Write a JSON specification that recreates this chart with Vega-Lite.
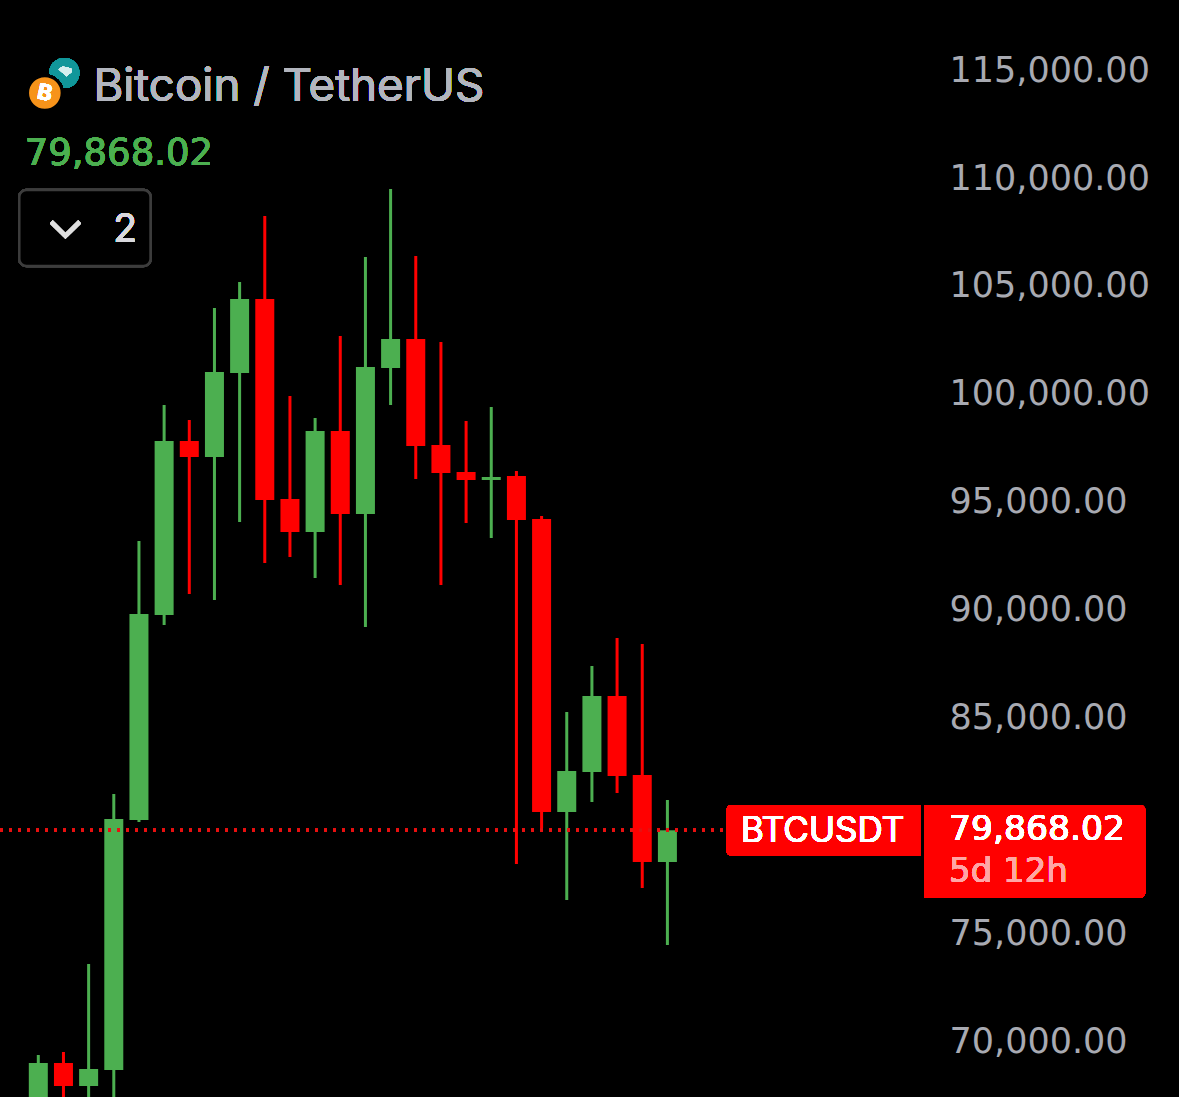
{
"$schema":"https://vega.github.io/schema/vega-lite/v6.json",
"width":1179,"height":1097,"autosize":{"type":"none"},"padding":0,"background":"#000000",
"config":{"view":{"stroke":null}},
"data":{"name":"candles","values":[
{"i":0,"open":66907,"high":69455,"low":66212,"close":69085},
{"i":1,"open":69085,"high":69594,"low":67138,"close":68019},
{"i":2,"open":68019,"high":73672,"low":67138,"close":68807},
{"i":3,"open":68760,"high":81550,"low":67138,"close":80392},
{"i":4,"open":80345,"high":93274,"low":80253,"close":89891},
{"i":5,"open":89845,"high":99576,"low":89381,"close":97908},
{"i":6,"open":97908,"high":98881,"low":90818,"close":97167},
{"i":7,"open":97167,"high":104071,"low":90540,"close":101106},
{"i":8,"open":101059,"high":105276,"low":94155,"close":104488},
{"i":9,"open":104488,"high":108335,"low":92255,"close":95174},
{"i":10,"open":95220,"high":99993,"low":92533,"close":93691},
{"i":11,"open":93691,"high":98974,"low":91559,"close":98371},
{"i":12,"open":98371,"high":102774,"low":91235,"close":94525},
{"i":13,"open":94525,"high":106435,"low":89289,"close":101337},
{"i":14,"open":101291,"high":109586,"low":99576,"close":102635},
{"i":15,"open":102635,"high":106481,"low":96147,"close":97676},
{"i":16,"open":97723,"high":102496,"low":91235,"close":96425},
{"i":17,"open":96472,"high":98835,"low":94108,"close":96101},
{"i":18,"open":96101,"high":99484,"low":93413,"close":96240},
{"i":19,"open":96286,"high":96518,"low":78306,"close":94247},
{"i":20,"open":94294,"high":94433,"low":79974,"close":80716},
{"i":21,"open":80716,"high":85350,"low":76638,"close":82616},
{"i":22,"open":82570,"high":87482,"low":81179,"close":86091},
{"i":23,"open":86091,"high":88779,"low":81596,"close":82384},
{"i":24,"open":82430,"high":88501,"low":77194,"close":78399},
{"i":25,"open":78399,"high":81272,"low":74553,"close":79868.02}
]},
"transform":[{"calculate":"datum.close>=datum.open?'up':'down'","as":"dir"}],
"layer":[
{"mark":{"type":"rule","strokeWidth":3,"clip":true},
 "encoding":{
  "x":{"field":"i","type":"quantitative","axis":null,"scale":{"domain":[-1.522,45.33],"nice":false,"zero":false,"padding":0}},
  "y":{"field":"low","type":"quantitative","title":null,"scale":{"domain":[67509,118344],"nice":false,"zero":false},
    "axis":{"orient":"right","offset":-230,"values":[115000,110000,105000,100000,95000,90000,85000,75000,70000],"format":",.2f","labelAlign":"left","labelPadding":0,"labelOffset":-2,"ticks":false,"domain":false,"grid":false,"labelFont":"DejaVu Sans","labelFontSize":35,"labelColor":"#A8AAB2","labelOverlap":false,"labelBound":false,"labelFlush":false,"labelLimit":400}},
  "y2":{"field":"high"},
  "color":{"field":"dir","type":"nominal","legend":null,"scale":{"domain":["up","down"],"range":["#4CAF50","#FF0000"]}}}},
{"mark":{"type":"bar","size":19,"orient":"vertical","clip":true},
 "encoding":{
  "x":{"field":"i","type":"quantitative"},
  "y":{"field":"open","type":"quantitative"},
  "y2":{"field":"close"},
  "color":{"field":"dir","type":"nominal","legend":null}}},
{"mark":{"type":"rule","color":"#E81010","strokeWidth":3,"strokeDash":[3,6]},
 "encoding":{"x":{"datum":-1.522,"type":"quantitative"},"x2":{"datum":27.2},"y":{"datum":79868.02,"type":"quantitative"}}},
{"mark":{"type":"rect","fill":"#FF0000","cornerRadiusTopLeft":5,"cornerRadiusBottomLeft":5},
 "encoding":{"x":{"datum":27.345,"type":"quantitative"},"x2":{"datum":35.06},"y":{"datum":81040,"type":"quantitative"},"y2":{"datum":78691}}},
{"mark":{"type":"rect","fill":"#FF0000","cornerRadiusTopRight":5,"cornerRadiusBottomRight":5},
 "encoding":{"x":{"datum":35.215,"type":"quantitative"},"x2":{"datum":43.99},"y":{"datum":81040,"type":"quantitative"},"y2":{"datum":76744}}},
{"mark":{"type":"text","text":"BTCUSDT","font":"Inter","fontSize":35,"color":"#FFFFFF","align":"left","baseline":"alphabetic"},
 "encoding":{"x":{"datum":27.92,"type":"quantitative"},"y":{"datum":79326,"type":"quantitative"}}},
{"mark":{"type":"text","text":"79,868.02","font":"DejaVu Sans","fontSize":34.6,"color":"#FFFFFF","align":"left","baseline":"alphabetic"},
 "encoding":{"x":{"datum":36.19,"type":"quantitative"},"y":{"datum":79418,"type":"quantitative"}}},
{"mark":{"type":"text","text":"5d 12h","font":"DejaVu Sans","fontSize":34,"color":"#FFA6A6","align":"left","baseline":"alphabetic"},
 "encoding":{"x":{"datum":36.19,"type":"quantitative"},"y":{"datum":77472,"type":"quantitative"}}},
{"mark":{"type":"text","text":"Bitcoin / TetherUS","font":"Inter","fontSize":45.7,"color":"#B2B5BE","align":"left","baseline":"alphabetic"},
 "encoding":{"x":{"datum":2.19,"type":"quantitative"},"y":{"datum":113678,"type":"quantitative"}}},
{"mark":{"type":"text","text":"79,868.02","font":"DejaVu Sans","fontSize":37,"color":"#4CAF50","align":"left","baseline":"alphabetic"},
 "encoding":{"x":{"datum":-0.54,"type":"quantitative"},"y":{"datum":110698,"type":"quantitative"}}},
{"mark":{"type":"rect","fill":"#000000","stroke":"#3C3C3C","strokeWidth":2.5,"cornerRadius":7},
 "encoding":{"x":{"datum":-0.755,"type":"quantitative"},"x2":{"datum":4.46},"y":{"datum":109539,"type":"quantitative"},"y2":{"datum":106018}}},
{"mark":{"type":"point","shape":"M-1,-0.5L0,0.5L1,-0.5","filled":false,"stroke":"#E0E0E0","strokeWidth":4,"size":790},
 "encoding":{"x":{"datum":1.08,"type":"quantitative"},"y":{"datum":107732,"type":"quantitative"}}},
{"mark":{"type":"text","text":"2","font":"Inter","fontSize":39,"color":"#D8D8DC","align":"left","baseline":"alphabetic"},
 "encoding":{"x":{"datum":2.98,"type":"quantitative"},"y":{"datum":107130,"type":"quantitative"}}},
{"mark":{"type":"point","shape":"circle","filled":true,"fill":"#11979A","opacity":1,"size":908},
 "encoding":{"x":{"datum":1.033,"type":"quantitative"},"y":{"datum":114961,"type":"quantitative"}}},
{"mark":{"type":"point","shape":"M-1,-0.3L-0.4,-0.7L0.9,-0.4L1,0.1L0.2,0.8Z","filled":true,"fill":"#D5EFEF","opacity":1,"size":170},
 "encoding":{"x":{"datum":1.07,"type":"quantitative"},"y":{"datum":115050,"type":"quantitative"}}},
{"mark":{"type":"point","shape":"circle","filled":true,"fill":"#F7931A","stroke":"#000000","strokeWidth":3,"opacity":1,"size":1195},
 "encoding":{"x":{"datum":0.26,"type":"quantitative"},"y":{"datum":114034,"type":"quantitative"}}},
{"mark":{"type":"text","text":"B","font":"Inter","fontWeight":"bold","fontSize":22,"color":"#FFFFFF","angle":12,"align":"center","baseline":"middle"},
 "encoding":{"x":{"datum":0.26,"type":"quantitative"},"y":{"datum":114034,"type":"quantitative"}}}
]
}
